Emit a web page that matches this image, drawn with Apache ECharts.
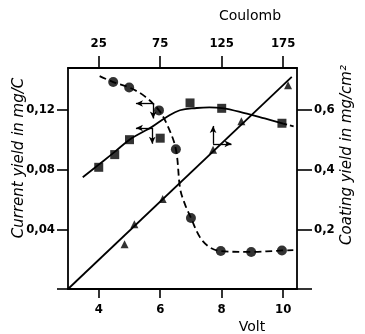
<!DOCTYPE html>
<html><head><meta charset="utf-8">
<script src="https://cdn.jsdelivr.net/npm/echarts@6/dist/echarts.min.js"></script>
<style>html,body{margin:0;padding:0;background:#fff}#c{width:365px;height:334px}</style>
</head><body><div id="c"></div>
<script>
// Volt axis (bottom) and Coulomb axis (top)
const voltTicks = [4, 6, 8, 10];
const coulombTicks = [25, 75, 125, 175];
// Squares: current yield (mg/C) vs Volt
const squareV = [4.0, 4.52, 5.0, 6.0, 6.97, 8.0, 9.96];
const squareY = [0.0815, 0.090, 0.100, 0.101, 0.1246, 0.121, 0.111];
// fitted curve through squares
const squareFitV = [3.48, 4.0, 4.5, 5.0, 5.4, 5.72, 6.21, 6.64, 7.19, 7.6, 8.0, 8.82, 9.4, 10.0];
const squareFitY = [0.0748, 0.0833, 0.0915, 0.1, 0.1048, 0.1084, 0.1152, 0.1197, 0.1212, 0.1216, 0.1212, 0.1174, 0.1142, 0.1108];
const squareTailV = [10.0, 10.34];
const squareTailY = [0.1108, 0.1089];
// Circles: current yield (mg/C) vs Volt
const circleV = [4.47, 4.99, 5.96, 6.51, 7.0, 7.97, 8.96, 9.96];
const circleY = [0.1386, 0.135, 0.1196, 0.0936, 0.0475, 0.0254, 0.0248, 0.0258];
// dashed curve through circles
const circleFitV = [4.03, 4.47, 4.99, 5.5, 5.96, 6.26, 6.51, 6.65, 6.8, 7.0, 7.3, 7.62, 7.97, 8.96, 9.96, 10.33];
const circleFitY = [0.1426, 0.1386, 0.135, 0.129, 0.1196, 0.1084, 0.0936, 0.067, 0.057, 0.0476, 0.0344, 0.0278, 0.0254, 0.0248, 0.0258, 0.026];
// Triangles: coating yield (mg/cm2) vs Coulomb
const triangleC = [46, 54, 77, 118, 141, 179];
const triangleY = [0.150, 0.217, 0.301, 0.466, 0.562, 0.682];
const triLineC = [0, 182];
const triLineY = [0, 0.71];
// axis-indicator arrows [x0, y0, x1, y1]
const arrowsLeft = [[5.77, 0.1242, 5.21, 0.1242], [5.77, 0.1242, 5.77, 0.1142], [5.74, 0.1078, 5.21, 0.1078], [5.74, 0.1078, 5.74, 0.0973]];
const arrowsRight = [[118, 0.486, 133, 0.486], [118, 0.486, 118, 0.546]];

const zip = (a, b) => a.map((v, i) => [v, b[i]]);
const FONT = '"DejaVu Sans Condensed", "DejaVu Sans", sans-serif';
const TFONT = '"DejaVu Sans", sans-serif';
const lbl = {color: '#000', fontFamily: FONT, fontSize: 13, fontWeight: 'bold'};
const axLine = {show: true, onZero: false, lineStyle: {color: '#000', width: 1.8}};
const tick = len => ({show: true, length: len, lineStyle: {color: '#000', width: 1.6}});
const comma = v => String(v).replace('.', ',');

const chart = echarts.init(document.getElementById('c'), null, {renderer: 'canvas'});
chart.setOption({
  animation: false,
  backgroundColor: '#fff',
  grid: {left: 68, right: 68, top: 68, bottom: 45, containLabel: false},
  xAxis: [
    {type: 'value', position: 'bottom', min: 3, max: 10.45,
     axisLine: axLine, axisTick: Object.assign(tick(9), {customValues: voltTicks}),
     axisLabel: Object.assign({}, lbl, {margin: 14, customValues: voltTicks}), splitLine: {show: false}},
    {type: 'value', position: 'top', min: 0, max: 186.25,
     axisLine: axLine, axisTick: Object.assign(tick(12), {customValues: coulombTicks}),
     axisLabel: Object.assign({}, lbl, {margin: 18, customValues: coulombTicks}), splitLine: {show: false}}
  ],
  yAxis: [
    {type: 'value', position: 'left', min: 0, max: 0.148, interval: 0.04,
     axisLine: axLine, axisTick: tick(11),
     axisLabel: Object.assign({}, lbl, {margin: 13, showMaxLabel: false, formatter: v => v === 0 ? '' : comma(v.toFixed(2))}),
     splitLine: {show: false}},
    {type: 'value', position: 'right', min: 0, max: 0.74, interval: 0.2,
     axisLine: axLine, axisTick: tick(15),
     axisLabel: Object.assign({}, lbl, {margin: 17, showMaxLabel: false, formatter: v => v === 0 ? '' : comma(v.toFixed(1))}),
     splitLine: {show: false}}
  ],
  graphic: [
    {type: 'text', x: 19, y: 158, rotation: Math.PI / 2,
     style: {text: 'Current yield in mg/C', fill: '#000', font: 'italic 15px ' + TFONT, align: 'center', verticalAlign: 'middle'}},
    {type: 'text', x: 347, y: 155, rotation: Math.PI / 2,
     style: {text: 'Coating yield in mg/cm²', fill: '#000', font: 'italic 15px ' + TFONT, align: 'center', verticalAlign: 'middle'}},
    {type: 'text', x: 250, y: 16,
     style: {text: 'Coulomb', fill: '#000', font: '14px ' + TFONT, align: 'center', verticalAlign: 'middle'}},
    {type: 'text', x: 252, y: 327,
     style: {text: 'Volt', fill: '#000', font: '14px ' + TFONT, align: 'center', verticalAlign: 'middle'}}
  ],
  series: [
    {type: 'line', xAxisIndex: 0, yAxisIndex: 0, data: zip(squareFitV, squareFitY), smooth: 0.4,
     showSymbol: false, lineStyle: {color: '#000', width: 1.8}, z: 2},
    {type: 'line', xAxisIndex: 0, yAxisIndex: 0, data: zip(squareTailV, squareTailY),
     showSymbol: false, lineStyle: {color: '#000', width: 1.8, type: [4, 3]}, z: 2},
    {type: 'scatter', xAxisIndex: 0, yAxisIndex: 0, data: zip(squareV, squareY), symbol: 'rect', symbolSize: 9,
     itemStyle: {color: '#000'}, z: 3},
    {type: 'line', xAxisIndex: 0, yAxisIndex: 0, data: zip(circleFitV, circleFitY), smooth: 0.35,
     showSymbol: false, lineStyle: {color: '#000', width: 1.8, type: [7, 4]}, z: 2},
    {type: 'scatter', xAxisIndex: 0, yAxisIndex: 0, data: zip(circleV, circleY), symbol: 'circle', symbolSize: 10,
     itemStyle: {color: '#000'}, z: 3,
     markLine: {silent: true, symbol: ['none', 'arrow'], symbolSize: [5, 7], label: {show: false},
       lineStyle: {color: '#000', width: 1.3, type: 'solid'},
       data: arrowsLeft.map(a => [{coord: [a[0], a[1]]}, {coord: [a[2], a[3]]}])}},
    {type: 'line', xAxisIndex: 1, yAxisIndex: 1, data: zip(triLineC, triLineY),
     showSymbol: false, lineStyle: {color: '#000', width: 1.8}, z: 2},
    {type: 'scatter', xAxisIndex: 1, yAxisIndex: 1, data: zip(triangleC, triangleY), symbol: 'triangle', symbolSize: 8,
     itemStyle: {color: '#000'}, z: 3,
     markLine: {silent: true, symbol: ['none', 'arrow'], symbolSize: [5, 7], label: {show: false},
       lineStyle: {color: '#000', width: 1.3, type: 'solid'},
       data: arrowsRight.map(a => [{coord: [a[0], a[1]]}, {coord: [a[2], a[3]]}])}}
  ]
});
</script></body></html>
